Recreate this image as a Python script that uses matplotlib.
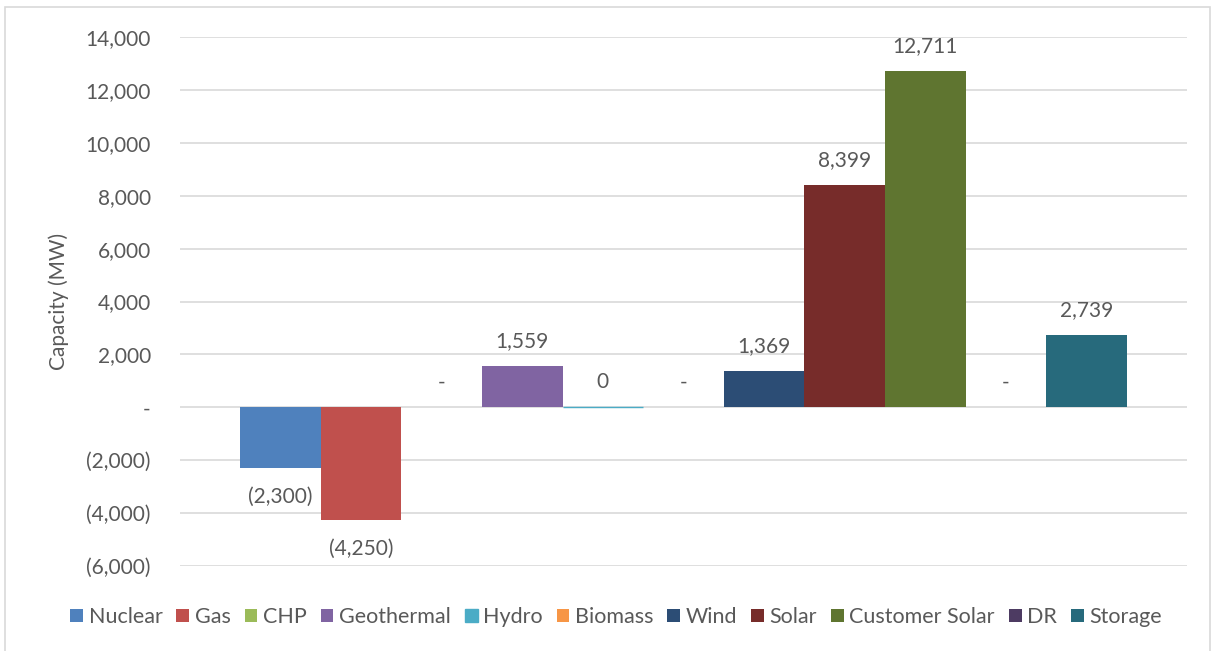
import matplotlib.pyplot as plt
from matplotlib.patches import Rectangle
from matplotlib.ticker import FuncFormatter
import numpy as np

plt.rcParams['font.family'] = ['Lato', 'DejaVu Sans']

# data
series = ['Nuclear', 'Gas', 'CHP', 'Geothermal', 'Hydro', 'Biomass',
          'Wind', 'Solar', 'Customer Solar', 'DR', 'Storage']
values = [-2300, -4250, 0, 1559, 0.4, 0, 1369, 8399, 12711, 0, 2739]
colors = ['#4F81BD', '#C0504D', '#9BBB59', '#8064A2', '#4BACC6', '#F79646',
          '#2C4D75', '#772C2A', '#5F7530', '#4D3B62', '#276A7C']
yticks = list(range(-6000, 14001, 2000))

text_col = '#595959'
W, H = 1217, 651
fig = plt.figure(figsize=(W / 100, H / 100), dpi=100)
ax = fig.add_axes([180 / W, 1 - 566 / H, (1187 - 180) / W, (566 - 37) / H])

# outer chart border
fig.patches.append(Rectangle((5 / W, -0.05), (1210 - 5) / W, 1.05 - 7 / H,
                             transform=fig.transFigure, fill=False,
                             edgecolor='#D9D9D9', linewidth=1.2))

n = len(series)
bw = 1.0
x = np.arange(n) * bw
handles = []
for i, (name, v, c) in enumerate(zip(series, values, colors)):
    lw = 1.0 if 0 < abs(v) < 1 else 0
    b = ax.bar(x[i], v, bw, color=c, edgecolor=c, linewidth=lw, label=name, zorder=3)
    handles.append(b)
    if v == 0:
        lab = '-'
    elif v < 0:
        lab = '({:,.0f})'.format(-v)
    else:
        lab = '{:,.0f}'.format(v)
    dy = -21 if v < 0 else 18
    ax.annotate(lab, (x[i], v), xytext=(0, dy), textcoords='offset points',
                ha='center', va='center', fontsize=15, color=text_col)

pad = 60 / 80.6
ax.set_xlim(x[0] - bw / 2 - pad, x[-1] + bw / 2 + pad)
ax.set_ylim(-6000, 14000)
ax.set_yticks(yticks)


def fmt(v, pos):
    if v == 0:
        return '-'
    if v < 0:
        return '({:,.0f})'.format(-v)
    return '{:,.0f}'.format(v)


ax.yaxis.set_major_formatter(FuncFormatter(fmt))
ax.set_xticks([])
ax.grid(axis='y', color='#D9D9D9', linewidth=1.2, zorder=0)
for s in ax.spines.values():
    s.set_visible(False)
ax.tick_params(axis='y', length=0, pad=21, labelsize=15, labelcolor=text_col)
ax.set_ylabel('Capacity (MW)', fontsize=15, color=text_col, labelpad=12)

fig.legend(handles=handles, labels=series, loc='center', bbox_to_anchor=(616 / W, 1 - 617 / H),
           ncol=n, frameon=False, fontsize=15.5, handlelength=0.6, handleheight=0.6,
           handletextpad=0.25, columnspacing=0.65, labelcolor=text_col)

fig.savefig('out.png', dpi=100)
